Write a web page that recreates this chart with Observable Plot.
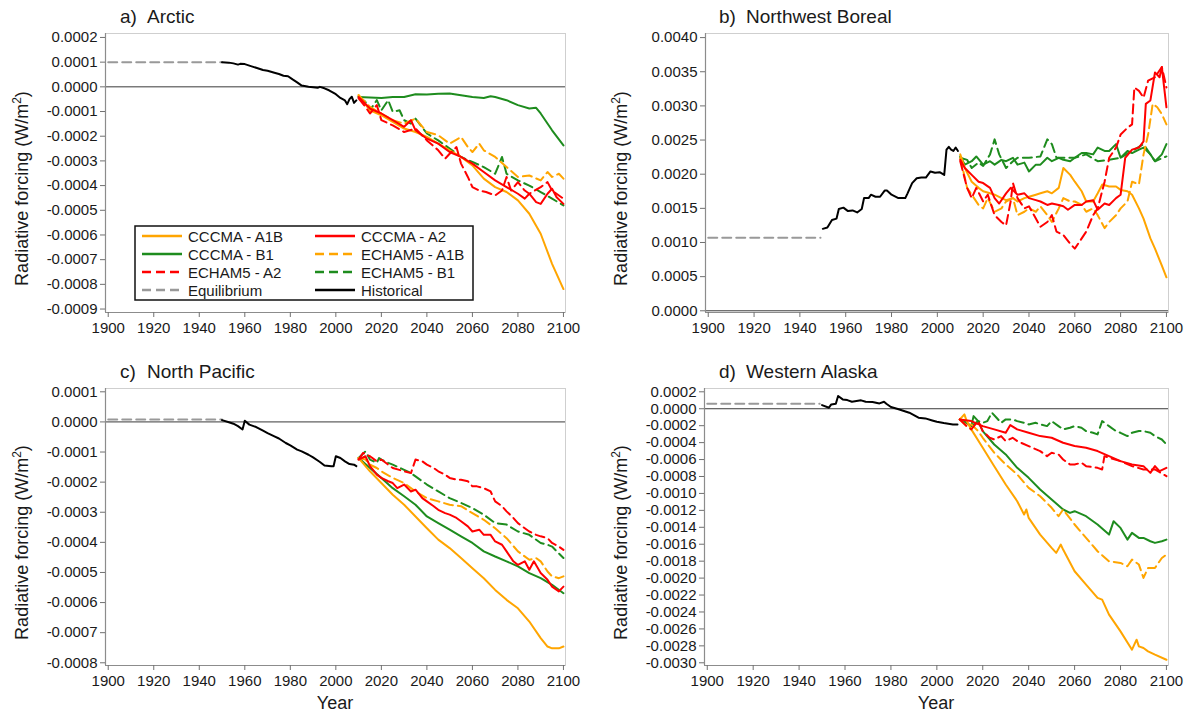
<!DOCTYPE html>
<html><head><meta charset="utf-8">
<script src="https://cdn.jsdelivr.net/npm/d3@7"></script>
<script src="https://cdn.jsdelivr.net/npm/@observablehq/plot@0.6"></script>
<style>
body{margin:0;background:#fff;}
#wrap{position:relative;width:1189px;height:713px;background:#fff;font-family:"Liberation Sans",Arial,sans-serif;}
#wrap > svg{position:absolute;}
</style></head><body><div id="wrap"></div>
<script>
// ---------- shared axis values ----------
const xTicks = [1900,1920,1940,1960,1980,2000,2020,2040,2060,2080,2100];
const arcticTicks = [0.0002,0.0001,0,-0.0001,-0.0002,-0.0003,-0.0004,-0.0005,-0.0006,-0.0007,-0.0008,-0.0009];
const borealTicks = [0,0.0005,0.001,0.0015,0.002,0.0025,0.003,0.0035,0.004];
const pacificTicks = [0.0001,0,-0.0001,-0.0002,-0.0003,-0.0004,-0.0005,-0.0006,-0.0007,-0.0008];
const alaskaTicks = [0.0002,0,-0.0002,-0.0004,-0.0006,-0.0008,-0.001,-0.0012,-0.0014,-0.0016,-0.0018,-0.002,-0.0022,-0.0024,-0.0026,-0.0028,-0.003];
const seriesNames = ["CCCMA - A1B","CCCMA - A2","CCCMA - B1","ECHAM5 - A1B","ECHAM5 - A2","ECHAM5 - B1","Equilibrium","Historical"];
const panelTitles = ["a)","Arctic","b)","Northwest Boreal","c)","North Pacific","d)","Western Alaska"];

// ---------- a) Arctic ----------
const arcticEquilibrium = [[1900,1.0e-4],[1950,1.0e-4]];
const arcticHistorical = [[1950,1.00e-4],[1953,0.98e-4],[1955,0.95e-4],[1957,0.90e-4],[1958,0.93e-4],[1960,0.92e-4],[1963,0.83e-4],[1965,0.77e-4],[1968,0.68e-4],[1970,0.65e-4],[1973,0.57e-4],[1975,0.52e-4],[1977,0.45e-4],[1979,0.43e-4],[1981,0.30e-4],[1983,0.18e-4],[1985,0.05e-4],[1988,0.00e-4],[1990,-0.02e-4],[1992,-0.04e-4],[1993,0.00e-4],[1995,-0.06e-4],[1997,-0.14e-4],[2000,-0.30e-4],[2002,-0.45e-4],[2004,-0.55e-4],[2005,-0.70e-4],[2006,-0.50e-4],[2007,-0.40e-4],[2008,-0.65e-4],[2009,-0.55e-4]];
const arcticCccmaA1B = [[2010,-0.34e-4],[2015,-0.95e-4],[2020,-1.15e-4],[2025,-1.42e-4],[2030,-1.69e-4],[2035,-1.83e-4],[2040,-2.03e-4],[2045,-2.30e-4],[2050,-2.57e-4],[2055,-2.84e-4],[2060,-3.18e-4],[2065,-3.72e-4],[2070,-4.06e-4],[2075,-4.26e-4],[2080,-4.60e-4],[2085,-5.14e-4],[2090,-5.95e-4],[2095,-7.17e-4],[2100,-8.19e-4]];
const arcticCccmaA2 = [[2010,-0.41e-4],[2015,-0.88e-4],[2018,-1.00e-4],[2020,-1.08e-4],[2025,-1.35e-4],[2030,-1.62e-4],[2033,-1.35e-4],[2035,-1.76e-4],[2040,-2.10e-4],[2045,-2.30e-4],[2050,-2.64e-4],[2055,-2.84e-4],[2060,-3.11e-4],[2065,-3.45e-4],[2070,-3.79e-4],[2075,-4.06e-4],[2080,-4.33e-4],[2083,-4.53e-4],[2085,-4.33e-4],[2088,-4.67e-4],[2090,-4.74e-4],[2093,-4.33e-4],[2095,-4.13e-4],[2097,-4.47e-4],[2100,-4.74e-4]];
const arcticCccmaB1 = [[2010,-0.41e-4],[2015,-0.43e-4],[2020,-0.45e-4],[2025,-0.41e-4],[2030,-0.41e-4],[2035,-0.30e-4],[2040,-0.31e-4],[2045,-0.28e-4],[2050,-0.27e-4],[2055,-0.34e-4],[2060,-0.41e-4],[2065,-0.45e-4],[2068,-0.38e-4],[2070,-0.41e-4],[2075,-0.54e-4],[2080,-0.74e-4],[2085,-0.88e-4],[2088,-0.85e-4],[2090,-1.08e-4],[2095,-1.76e-4],[2100,-2.37e-4]];
const arcticEchamA1B = [[2010,-0.34e-4],[2015,-0.81e-4],[2020,-1.08e-4],[2025,-1.35e-4],[2030,-1.49e-4],[2035,-1.29e-4],[2040,-1.83e-4],[2045,-1.96e-4],[2050,-2.30e-4],[2055,-2.03e-4],[2058,-2.44e-4],[2060,-2.64e-4],[2063,-2.30e-4],[2065,-2.57e-4],[2070,-2.84e-4],[2075,-3.25e-4],[2080,-3.65e-4],[2085,-3.59e-4],[2090,-3.79e-4],[2093,-3.45e-4],[2095,-3.65e-4],[2098,-3.52e-4],[2100,-3.72e-4]];
const arcticEchamA2 = [[2010,-0.47e-4],[2013,-0.81e-4],[2015,-1.08e-4],[2018,-0.74e-4],[2020,-1.35e-4],[2025,-1.56e-4],[2030,-1.83e-4],[2035,-1.69e-4],[2040,-2.17e-4],[2045,-2.57e-4],[2048,-2.91e-4],[2050,-2.71e-4],[2053,-2.44e-4],[2055,-3.11e-4],[2058,-3.65e-4],[2060,-4.06e-4],[2063,-4.20e-4],[2066,-4.26e-4],[2070,-4.40e-4],[2073,-4.20e-4],[2075,-3.65e-4],[2077,-4.20e-4],[2080,-3.86e-4],[2083,-4.20e-4],[2085,-4.33e-4],[2090,-4.06e-4],[2093,-3.86e-4],[2095,-4.20e-4],[2100,-4.53e-4]];
const arcticEchamB1 = [[2010,-0.41e-4],[2013,-0.61e-4],[2015,-0.95e-4],[2018,-0.54e-4],[2020,-0.95e-4],[2023,-0.54e-4],[2025,-1.01e-4],[2028,-0.95e-4],[2030,-1.35e-4],[2033,-1.49e-4],[2035,-1.29e-4],[2040,-1.89e-4],[2045,-2.17e-4],[2050,-2.50e-4],[2055,-2.84e-4],[2060,-3.04e-4],[2065,-3.25e-4],[2070,-3.52e-4],[2073,-2.84e-4],[2075,-3.52e-4],[2080,-3.79e-4],[2085,-4.00e-4],[2090,-4.26e-4],[2095,-4.53e-4],[2100,-4.80e-4]];

// ---------- b) Northwest Boreal ----------
const borealEquilibrium = [[1900,1.07e-3],[1949,1.07e-3]];
const borealHistorical = [[1950,1.20e-3],[1952,1.22e-3],[1954,1.33e-3],[1956,1.35e-3],[1957,1.49e-3],[1959,1.51e-3],[1961,1.46e-3],[1963,1.47e-3],[1965,1.44e-3],[1967,1.49e-3],[1968,1.65e-3],[1970,1.65e-3],[1971,1.70e-3],[1973,1.67e-3],[1975,1.67e-3],[1977,1.76e-3],[1978,1.76e-3],[1980,1.70e-3],[1983,1.65e-3],[1986,1.65e-3],[1987,1.72e-3],[1989,1.87e-3],[1991,1.94e-3],[1993,1.95e-3],[1995,1.95e-3],[1997,2.04e-3],[1999,2.02e-3],[2001,2.03e-3],[2003,1.99e-3],[2004,2.36e-3],[2005,2.40e-3],[2006,2.36e-3],[2007,2.34e-3],[2008,2.39e-3],[2009,2.34e-3]];
const borealCccmaA1B = [[2010,2.29e-3],[2012,2.09e-3],[2015,1.89e-3],[2018,1.80e-3],[2020,1.75e-3],[2023,1.72e-3],[2025,1.70e-3],[2028,1.65e-3],[2030,1.62e-3],[2033,1.65e-3],[2035,1.60e-3],[2038,1.65e-3],[2040,1.67e-3],[2043,1.70e-3],[2045,1.72e-3],[2048,1.75e-3],[2050,1.72e-3],[2053,1.80e-3],[2055,2.09e-3],[2058,1.99e-3],[2060,1.89e-3],[2063,1.75e-3],[2065,1.60e-3],[2068,1.60e-3],[2070,1.72e-3],[2072,1.85e-3],[2075,1.82e-3],[2078,1.82e-3],[2080,1.77e-3],[2083,1.75e-3],[2085,1.70e-3],[2088,1.50e-3],[2090,1.35e-3],[2093,1.06e-3],[2095,0.91e-3],[2098,0.66e-3],[2100,0.49e-3]];
const borealCccmaA2 = [[2010,2.21e-3],[2012,2.09e-3],[2015,1.99e-3],[2018,1.89e-3],[2020,1.87e-3],[2023,1.80e-3],[2025,1.65e-3],[2027,1.57e-3],[2030,1.72e-3],[2032,1.80e-3],[2035,1.70e-3],[2038,1.72e-3],[2040,1.65e-3],[2043,1.62e-3],[2045,1.60e-3],[2048,1.55e-3],[2050,1.57e-3],[2053,1.55e-3],[2055,1.53e-3],[2057,1.48e-3],[2060,1.55e-3],[2063,1.55e-3],[2065,1.60e-3],[2068,1.62e-3],[2070,1.48e-3],[2073,1.57e-3],[2075,1.55e-3],[2078,1.65e-3],[2080,1.70e-3],[2082,2.24e-3],[2085,2.36e-3],[2088,2.39e-3],[2090,2.48e-3],[2091,3.03e-3],[2093,3.08e-3],[2095,3.49e-3],[2097,3.42e-3],[2098,3.57e-3],[2099,3.27e-3],[2100,2.98e-3]];
const borealCccmaB1 = [[2010,2.26e-3],[2012,2.14e-3],[2015,2.19e-3],[2017,2.26e-3],[2020,2.14e-3],[2023,2.19e-3],[2025,2.14e-3],[2028,2.21e-3],[2030,2.19e-3],[2033,2.24e-3],[2035,2.14e-3],[2038,2.17e-3],[2040,2.04e-3],[2043,2.14e-3],[2045,2.14e-3],[2048,2.24e-3],[2050,2.19e-3],[2053,2.24e-3],[2055,2.21e-3],[2058,2.19e-3],[2060,2.24e-3],[2063,2.31e-3],[2065,2.31e-3],[2068,2.29e-3],[2070,2.39e-3],[2073,2.34e-3],[2075,2.34e-3],[2078,2.44e-3],[2080,2.24e-3],[2083,2.34e-3],[2085,2.31e-3],[2088,2.36e-3],[2090,2.39e-3],[2093,2.29e-3],[2095,2.19e-3],[2098,2.29e-3],[2100,2.44e-3]];
const borealEchamA1B = [[2010,2.24e-3],[2013,1.80e-3],[2015,1.70e-3],[2018,1.55e-3],[2020,1.50e-3],[2022,1.65e-3],[2025,1.45e-3],[2028,1.50e-3],[2030,1.60e-3],[2033,1.65e-3],[2035,1.40e-3],[2038,1.45e-3],[2040,1.50e-3],[2043,1.45e-3],[2045,1.53e-3],[2048,1.40e-3],[2050,1.30e-3],[2053,1.50e-3],[2055,1.65e-3],[2058,1.60e-3],[2060,1.60e-3],[2063,1.55e-3],[2065,1.45e-3],[2068,1.50e-3],[2070,1.40e-3],[2073,1.21e-3],[2075,1.30e-3],[2078,1.40e-3],[2080,1.50e-3],[2083,1.60e-3],[2085,1.89e-3],[2088,1.85e-3],[2090,2.29e-3],[2092,2.58e-3],[2094,3.03e-3],[2096,2.98e-3],[2098,2.88e-3],[2100,2.73e-3]];
const borealEchamA2 = [[2010,2.19e-3],[2013,1.80e-3],[2015,1.65e-3],[2017,1.80e-3],[2020,1.60e-3],[2022,1.70e-3],[2025,1.40e-3],[2028,1.30e-3],[2030,1.25e-3],[2032,1.60e-3],[2033,1.87e-3],[2035,1.65e-3],[2038,1.50e-3],[2040,1.53e-3],[2043,1.35e-3],[2045,1.23e-3],[2048,1.30e-3],[2050,1.40e-3],[2052,1.16e-3],[2055,1.11e-3],[2058,0.98e-3],[2060,0.91e-3],[2062,1.01e-3],[2065,1.16e-3],[2068,1.40e-3],[2070,1.50e-3],[2073,1.89e-3],[2075,2.24e-3],[2078,2.39e-3],[2080,2.58e-3],[2083,2.68e-3],[2085,2.73e-3],[2086,3.27e-3],[2088,3.22e-3],[2090,3.12e-3],[2092,3.37e-3],[2095,3.42e-3],[2098,3.57e-3],[2100,3.27e-3]];
const borealEchamB1 = [[2010,2.24e-3],[2013,2.21e-3],[2015,2.09e-3],[2018,2.17e-3],[2020,2.12e-3],[2023,2.29e-3],[2025,2.51e-3],[2027,2.29e-3],[2030,2.09e-3],[2033,2.19e-3],[2035,2.24e-3],[2040,2.24e-3],[2045,2.26e-3],[2048,2.51e-3],[2050,2.44e-3],[2052,2.24e-3],[2055,2.24e-3],[2060,2.24e-3],[2065,2.29e-3],[2070,2.19e-3],[2075,2.21e-3],[2080,2.24e-3],[2085,2.34e-3],[2090,2.44e-3],[2093,2.29e-3],[2095,2.19e-3],[2100,2.26e-3]];

// ---------- c) North Pacific ----------
const pacificEquilibrium = [[1900,0.08e-4],[1950,0.08e-4]];
const pacificHistorical = [[1950,0.06e-4],[1953,-0.01e-4],[1955,-0.06e-4],[1957,-0.14e-4],[1959,-0.25e-4],[1960,0.04e-4],[1962,-0.09e-4],[1965,-0.17e-4],[1968,-0.29e-4],[1970,-0.37e-4],[1973,-0.48e-4],[1975,-0.55e-4],[1978,-0.70e-4],[1980,-0.78e-4],[1983,-0.92e-4],[1985,-0.98e-4],[1988,-1.09e-4],[1990,-1.18e-4],[1993,-1.33e-4],[1995,-1.45e-4],[1998,-1.47e-4],[1999,-1.47e-4],[2000,-1.14e-4],[2002,-1.20e-4],[2004,-1.31e-4],[2006,-1.40e-4],[2008,-1.42e-4],[2009,-1.47e-4]];
const pacificCccmaA1B = [[2010,-1.20e-4],[2015,-1.64e-4],[2020,-2.03e-4],[2025,-2.42e-4],[2030,-2.75e-4],[2035,-3.14e-4],[2040,-3.53e-4],[2045,-3.91e-4],[2050,-4.19e-4],[2055,-4.52e-4],[2060,-4.86e-4],[2065,-5.19e-4],[2070,-5.58e-4],[2075,-5.91e-4],[2080,-6.19e-4],[2085,-6.63e-4],[2090,-7.18e-4],[2093,-7.46e-4],[2095,-7.52e-4],[2098,-7.52e-4],[2100,-7.46e-4]];
const pacificCccmaA2 = [[2010,-1.25e-4],[2013,-1.14e-4],[2015,-1.47e-4],[2018,-1.75e-4],[2020,-1.86e-4],[2023,-1.97e-4],[2025,-2.03e-4],[2027,-2.20e-4],[2030,-2.08e-4],[2033,-2.31e-4],[2035,-2.25e-4],[2038,-2.53e-4],[2040,-2.64e-4],[2043,-2.80e-4],[2045,-2.92e-4],[2048,-3.03e-4],[2050,-3.08e-4],[2053,-3.19e-4],[2055,-3.30e-4],[2058,-3.47e-4],[2060,-3.64e-4],[2063,-3.58e-4],[2065,-3.75e-4],[2068,-3.75e-4],[2070,-3.97e-4],[2073,-4.08e-4],[2075,-4.30e-4],[2078,-4.63e-4],[2080,-4.75e-4],[2083,-4.63e-4],[2085,-4.91e-4],[2087,-4.63e-4],[2090,-5.02e-4],[2093,-5.24e-4],[2095,-5.47e-4],[2098,-5.63e-4],[2100,-5.47e-4]];
const pacificCccmaB1 = [[2010,-1.20e-4],[2015,-1.53e-4],[2020,-1.86e-4],[2025,-2.20e-4],[2030,-2.47e-4],[2035,-2.75e-4],[2040,-3.14e-4],[2045,-3.36e-4],[2050,-3.58e-4],[2055,-3.80e-4],[2060,-4.02e-4],[2065,-4.30e-4],[2070,-4.47e-4],[2075,-4.63e-4],[2080,-4.80e-4],[2085,-5.02e-4],[2090,-5.19e-4],[2095,-5.41e-4],[2100,-5.69e-4]];
const pacificEchamA1B = [[2010,-1.20e-4],[2013,-1.25e-4],[2015,-1.42e-4],[2018,-1.53e-4],[2020,-1.64e-4],[2025,-1.86e-4],[2030,-2.03e-4],[2035,-2.31e-4],[2040,-2.53e-4],[2045,-2.64e-4],[2050,-2.75e-4],[2055,-2.80e-4],[2060,-3.03e-4],[2065,-3.25e-4],[2070,-3.53e-4],[2075,-3.86e-4],[2080,-4.30e-4],[2085,-4.58e-4],[2088,-4.52e-4],[2090,-4.63e-4],[2093,-4.97e-4],[2095,-5.13e-4],[2098,-5.19e-4],[2100,-5.13e-4]];
const pacificEchamA2 = [[2010,-1.25e-4],[2012,-1.03e-4],[2015,-1.14e-4],[2018,-1.31e-4],[2020,-1.25e-4],[2023,-1.42e-4],[2025,-1.53e-4],[2030,-1.64e-4],[2033,-1.70e-4],[2035,-1.25e-4],[2038,-1.31e-4],[2040,-1.42e-4],[2043,-1.53e-4],[2045,-1.64e-4],[2048,-1.75e-4],[2050,-1.86e-4],[2053,-1.92e-4],[2055,-1.92e-4],[2058,-1.97e-4],[2060,-2.14e-4],[2062,-2.14e-4],[2065,-2.20e-4],[2068,-2.31e-4],[2070,-2.64e-4],[2073,-2.80e-4],[2075,-2.97e-4],[2078,-3.19e-4],[2080,-3.36e-4],[2083,-3.53e-4],[2085,-3.64e-4],[2088,-3.75e-4],[2090,-3.80e-4],[2093,-3.86e-4],[2095,-4.02e-4],[2098,-4.14e-4],[2100,-4.25e-4]];
const pacificEchamB1 = [[2010,-1.20e-4],[2013,-0.98e-4],[2015,-1.25e-4],[2018,-1.36e-4],[2019,-1.20e-4],[2020,-1.25e-4],[2023,-1.36e-4],[2025,-1.42e-4],[2030,-1.59e-4],[2033,-1.70e-4],[2035,-1.81e-4],[2040,-2.08e-4],[2045,-2.31e-4],[2050,-2.53e-4],[2055,-2.69e-4],[2060,-2.86e-4],[2065,-3.08e-4],[2070,-3.36e-4],[2075,-3.41e-4],[2080,-3.64e-4],[2085,-3.75e-4],[2090,-4.02e-4],[2093,-4.08e-4],[2095,-4.14e-4],[2100,-4.52e-4]];

// ---------- d) Western Alaska ----------
const alaskaEquilibrium = [[1900,0.6e-4],[1949,0.6e-4]];
const alaskaHistorical = [[1950,0.43e-4],[1953,0.12e-4],[1954,0.51e-4],[1956,0.59e-4],[1957,1.50e-4],[1959,1.10e-4],[1961,1.02e-4],[1963,0.83e-4],[1965,0.91e-4],[1967,0.99e-4],[1969,0.83e-4],[1972,0.79e-4],[1975,0.63e-4],[1977,0.83e-4],[1978,0.59e-4],[1980,0.20e-4],[1983,-0.04e-4],[1985,-0.20e-4],[1988,-0.47e-4],[1990,-0.75e-4],[1992,-1.06e-4],[1995,-1.14e-4],[1998,-1.38e-4],[2000,-1.54e-4],[2003,-1.69e-4],[2005,-1.77e-4],[2007,-1.85e-4],[2009,-1.85e-4]];
const alaskaCccmaA1B = [[2010,-1.26e-4],[2012,-0.67e-4],[2013,-1.46e-4],[2015,-2.44e-4],[2020,-4.61e-4],[2025,-6.78e-4],[2030,-8.95e-4],[2035,-10.92e-4],[2038,-12.49e-4],[2039,-11.90e-4],[2040,-12.89e-4],[2045,-14.86e-4],[2050,-16.43e-4],[2052,-17.02e-4],[2054,-16.04e-4],[2055,-16.63e-4],[2060,-19.19e-4],[2065,-20.77e-4],[2070,-22.34e-4],[2072,-22.54e-4],[2075,-24.32e-4],[2080,-26.29e-4],[2085,-28.45e-4],[2087,-27.27e-4],[2088,-28.06e-4],[2090,-28.26e-4],[2092,-28.65e-4],[2095,-29.04e-4],[2100,-29.64e-4]];
const alaskaCccmaA2 = [[2010,-1.26e-4],[2015,-1.46e-4],[2020,-2.05e-4],[2025,-2.44e-4],[2030,-2.84e-4],[2032,-1.93e-4],[2035,-2.44e-4],[2040,-2.84e-4],[2045,-3.23e-4],[2050,-3.43e-4],[2055,-4.02e-4],[2060,-4.41e-4],[2065,-4.61e-4],[2070,-5.00e-4],[2075,-5.60e-4],[2080,-6.19e-4],[2085,-6.58e-4],[2090,-6.78e-4],[2093,-7.57e-4],[2095,-6.78e-4],[2097,-7.37e-4],[2100,-6.98e-4]];
const alaskaCccmaB1 = [[2010,-1.26e-4],[2013,-1.66e-4],[2015,-2.05e-4],[2016,-0.87e-4],[2018,-1.46e-4],[2020,-2.64e-4],[2025,-4.22e-4],[2030,-5.40e-4],[2035,-6.98e-4],[2040,-8.16e-4],[2045,-9.54e-4],[2050,-10.72e-4],[2055,-11.90e-4],[2058,-12.30e-4],[2060,-12.10e-4],[2065,-12.69e-4],[2070,-13.67e-4],[2075,-14.86e-4],[2077,-13.28e-4],[2080,-14.07e-4],[2083,-15.45e-4],[2085,-14.66e-4],[2088,-15.25e-4],[2090,-15.25e-4],[2093,-15.65e-4],[2095,-15.84e-4],[2098,-15.65e-4],[2100,-15.45e-4]];
const alaskaEchamA1B = [[2010,-1.26e-4],[2013,-2.05e-4],[2015,-1.85e-4],[2018,-2.64e-4],[2020,-3.43e-4],[2025,-5.20e-4],[2030,-6.58e-4],[2035,-7.76e-4],[2040,-9.34e-4],[2045,-10.33e-4],[2050,-11.70e-4],[2053,-12.69e-4],[2055,-11.90e-4],[2060,-13.67e-4],[2065,-15.25e-4],[2070,-16.83e-4],[2075,-18.01e-4],[2080,-18.21e-4],[2083,-18.60e-4],[2085,-17.81e-4],[2088,-18.40e-4],[2090,-19.98e-4],[2092,-18.80e-4],[2095,-18.80e-4],[2098,-17.62e-4],[2100,-17.22e-4]];
const alaskaEchamA2 = [[2010,-1.26e-4],[2013,-2.05e-4],[2015,-2.44e-4],[2018,-1.46e-4],[2020,-2.64e-4],[2023,-3.43e-4],[2025,-3.63e-4],[2028,-3.23e-4],[2030,-3.82e-4],[2033,-3.43e-4],[2035,-3.82e-4],[2040,-4.41e-4],[2045,-5.00e-4],[2048,-5.60e-4],[2050,-5.20e-4],[2053,-5.40e-4],[2055,-5.99e-4],[2058,-6.58e-4],[2060,-6.58e-4],[2063,-6.38e-4],[2065,-6.78e-4],[2070,-6.98e-4],[2072,-7.17e-4],[2073,-5.60e-4],[2075,-5.79e-4],[2080,-6.19e-4],[2085,-6.78e-4],[2090,-7.17e-4],[2095,-7.17e-4],[2100,-7.96e-4]];
const alaskaEchamB1 = [[2010,-1.26e-4],[2013,-1.66e-4],[2015,-2.05e-4],[2018,-1.46e-4],[2020,-1.66e-4],[2022,-1.46e-4],[2024,-0.47e-4],[2026,-1.06e-4],[2028,-1.66e-4],[2030,-1.26e-4],[2033,-1.26e-4],[2035,-1.46e-4],[2038,-1.66e-4],[2040,-1.85e-4],[2043,-1.66e-4],[2045,-1.85e-4],[2048,-2.05e-4],[2050,-1.46e-4],[2053,-2.05e-4],[2055,-2.44e-4],[2058,-2.25e-4],[2060,-2.05e-4],[2063,-2.25e-4],[2065,-2.64e-4],[2068,-2.84e-4],[2070,-3.03e-4],[2072,-1.46e-4],[2075,-2.05e-4],[2078,-2.64e-4],[2080,-2.84e-4],[2083,-3.23e-4],[2085,-2.84e-4],[2088,-2.64e-4],[2090,-2.64e-4],[2093,-2.84e-4],[2095,-3.23e-4],[2098,-3.63e-4],[2100,-4.22e-4]];

// ---------- styles ----------
const ORANGE = "#FFA500", RED = "#FF0000", GREEN = "#1E8C1E", GRAY = "#999999", BLACK = "#000000";
const DASH = "9,5";
const styles = {
  "CCCMA - A1B": {stroke: ORANGE, dash: null},
  "CCCMA - A2": {stroke: RED, dash: null},
  "CCCMA - B1": {stroke: GREEN, dash: null},
  "ECHAM5 - A1B": {stroke: ORANGE, dash: DASH},
  "ECHAM5 - A2": {stroke: RED, dash: DASH},
  "ECHAM5 - B1": {stroke: GREEN, dash: DASH},
  "Equilibrium": {stroke: GRAY, dash: DASH},
  "Historical": {stroke: BLACK, dash: null}
};

const panels = [
  {label: panelTitles[0], name: panelTitles[1], left: 0, top: 0, width: 594, height: 356, mt: 33, mb: 44, ml: 105, mr: 29,
   yDomain: [-0.000914, 0.000216], yTicks: arcticTicks, xLabel: false, legend: true,
   series: {"Equilibrium": arcticEquilibrium, "Historical": arcticHistorical, "CCCMA - B1": arcticCccmaB1, "ECHAM5 - B1": arcticEchamB1, "ECHAM5 - A1B": arcticEchamA1B, "CCCMA - A1B": arcticCccmaA1B, "ECHAM5 - A2": arcticEchamA2, "CCCMA - A2": arcticCccmaA2}},
  {label: panelTitles[2], name: panelTitles[3], left: 599, top: 0, width: 590, height: 356, mt: 33, mb: 44, ml: 106, mr: 21,
   yDomain: [-0.000025, 0.00406], yTicks: borealTicks, xLabel: false,
   series: {"Equilibrium": borealEquilibrium, "Historical": borealHistorical, "CCCMA - B1": borealCccmaB1, "ECHAM5 - B1": borealEchamB1, "ECHAM5 - A1B": borealEchamA1B, "CCCMA - A1B": borealCccmaA1B, "ECHAM5 - A2": borealEchamA2, "CCCMA - A2": borealCccmaA2}},
  {label: panelTitles[4], name: panelTitles[5], left: 0, top: 356, width: 594, height: 357, mt: 32, mb: 48, ml: 105, mr: 29,
   yDomain: [-0.000809, 0.000111], yTicks: pacificTicks, xLabel: true,
   series: {"Equilibrium": pacificEquilibrium, "Historical": pacificHistorical, "CCCMA - B1": pacificCccmaB1, "ECHAM5 - B1": pacificEchamB1, "ECHAM5 - A1B": pacificEchamA1B, "CCCMA - A1B": pacificCccmaA1B, "ECHAM5 - A2": pacificEchamA2, "CCCMA - A2": pacificCccmaA2}},
  {label: panelTitles[6], name: panelTitles[7], left: 599, top: 356, width: 590, height: 357, mt: 32, mb: 48, ml: 105, mr: 21,
   yDomain: [-0.003032, 0.000239], yTicks: alaskaTicks, xLabel: true,
   series: {"Equilibrium": alaskaEquilibrium, "Historical": alaskaHistorical, "CCCMA - B1": alaskaCccmaB1, "ECHAM5 - B1": alaskaEchamB1, "ECHAM5 - A1B": alaskaEchamA1B, "CCCMA - A1B": alaskaCccmaA1B, "ECHAM5 - A2": alaskaEchamA2, "CCCMA - A2": alaskaCccmaA2}}
];

const xDomain = [1898.8, 2100.9];
const FONT = "'Liberation Sans', Arial, Helvetica, sans-serif";
const wrap = document.getElementById("wrap");

for (const p of panels) {
  const lineMarks = Object.entries(p.series).map(([key, rows]) =>
    Plot.line(rows, {x: d => d[0], y: d => d[1], stroke: styles[key].stroke, strokeWidth: 2,
      strokeDasharray: styles[key].dash || undefined, strokeLinejoin: "round"}));
  const svg = Plot.plot({
    width: p.width, height: p.height,
    marginTop: p.mt, marginBottom: p.mb, marginLeft: p.ml, marginRight: p.mr,
    style: {fontFamily: FONT, fontSize: "15px", background: "white", color: "#1a1a1a", overflow: "visible"},
    x: {domain: xDomain, label: null},
    y: {domain: p.yDomain, label: null},
    marks: [
      Plot.frame({stroke: "#cfcfcf"}),
      Plot.ruleY([0], {stroke: "#3a3a3a", strokeWidth: 1}),
      Plot.ruleX([xDomain[0]], {stroke: "#8c8c8c", strokeWidth: 1.2}),
      Plot.ruleY([p.yDomain[0]], {stroke: "#8c8c8c", strokeWidth: 1.2}),
      Plot.axisY(p.yTicks, {anchor: "left", tickSize: 5, tickPadding: 3, tickFormat: d => d.toFixed(4), fontSize: 15, color: "#1a1a1a", stroke: "#707070", label: null}),
      Plot.axisX(xTicks, {anchor: "bottom", tickSize: 5, tickPadding: 5, tickFormat: d => String(d), fontSize: 15, color: "#1a1a1a", stroke: "#707070", label: null}),
      ...lineMarks
    ]
  });
  svg.style.left = p.left + "px";
  svg.style.top = p.top + "px";
  wrap.appendChild(svg);
  const s = d3.select(svg);
  const g = s.append("g").attr("font-family", FONT).attr("fill", "#1a1a1a").attr("text-anchor", "start");
  // title
  g.append("text").attr("x", 120).attr("y", p.mt - 10).attr("text-anchor", "start").attr("font-size", 19).text(p.label);
  g.append("text").attr("x", 147).attr("y", p.mt - 10).attr("text-anchor", "start").attr("font-size", 19).text(p.name);
  // y label
  const cy = p.mt + (p.height - p.mt - p.mb) / 2 + 16;
  const yl = g.append("text").attr("transform", `translate(28,${cy}) rotate(-90)`).attr("text-anchor", "middle").attr("font-size", 18);
  yl.append("tspan").text("Radiative forcing (W/m");
  yl.append("tspan").attr("baseline-shift", "super").attr("font-size", 12).text("2");
  yl.append("tspan").text(")");
  // x label
  if (p.xLabel) {
    g.append("text").attr("x", p.ml + (p.width - p.ml - p.mr) / 2).attr("y", p.height - 4)
      .attr("text-anchor", "middle").attr("font-size", 18).text("Year");
  }
  // legend
  if (p.legend) {
    const lg = g.append("g").attr("transform", "translate(135,226)");
    lg.append("rect").attr("width", 338).attr("height", 74).attr("fill", "white").attr("stroke", "#111").attr("stroke-width", 1.5);
    seriesNames.forEach((name, i) => {
      const col = i % 2, row = Math.floor(i / 2);
      const lx = col === 0 ? 7 : 180, ty = 10 + row * 18;
      lg.append("line").attr("x1", lx).attr("x2", lx + 40).attr("y1", ty).attr("y2", ty)
        .attr("stroke", styles[name].stroke).attr("stroke-width", 2.5)
        .attr("stroke-dasharray", styles[name].dash || null);
      lg.append("text").attr("x", lx + 46).attr("y", ty + 5.5).attr("text-anchor", "start").attr("font-size", 15).text(name);
    });
  }
}
</script></body></html>
